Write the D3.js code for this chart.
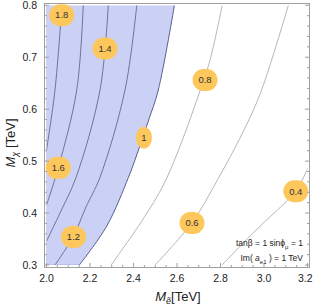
<!DOCTYPE html>
<html>
<head>
<meta charset="utf-8">
<script src="https://cdn.jsdelivr.net/npm/d3@7"></script>
<style>
  body { margin: 0; background: #fff; }
  svg { display: block; font-family: "Liberation Sans", Arial, sans-serif; }
</style>
</head>
<body>
<div id="wrapper"></div>
<script>
// contour lines, [M_e, M_chi] in TeV
const c18 = [[2.071, 0.80], [2.039, 0.637], [2.0, 0.521]];
const c16 = [[2.169, 0.80], [2.139, 0.637], [2.054, 0.487], [2.0, 0.4155]];
const c14 = [[2.284, 0.80], [2.246, 0.637], [2.136, 0.469], [2.062, 0.40], [2.0, 0.346]];
const c12 = [[2.415, 0.80], [2.361, 0.637], [2.246, 0.469], [2.182, 0.412], [2.122, 0.354], [2.039, 0.30]];
const c10 = [[2.588, 0.80], [2.514, 0.637], [2.468, 0.577], [2.415, 0.512], [2.377, 0.469], [2.277, 0.375], [2.151, 0.30]];
const c08 = [[2.808, 0.80], [2.752, 0.695], [2.706, 0.635], [2.553, 0.4675], [2.453, 0.394], [2.297, 0.30]];
const c06 = [[3.112, 0.80], [2.989, 0.637], [2.913, 0.564], [2.793, 0.469], [2.668, 0.381], [2.499, 0.30]];
const c04 = [[3.202, 0.487], [3.145, 0.4425], [2.959, 0.3655], [2.807, 0.30]];

const darkContours = [c18, c16, c14, c12];
const lightContours = [c08, c06, c04];

// contour labels
const labelText = ["1.8", "1.4", "1", "0.8", "1.6", "1.2", "0.6", "0.4"];
const labelMe = [2.070, 2.269, 2.448, 2.729, 2.054, 2.124, 2.669, 3.146];
const labelMx = [0.781, 0.717, 0.545, 0.656, 0.487, 0.354, 0.381, 0.442];

const xTicks = [2.0, 2.2, 2.4, 2.6, 2.8, 3.0, 3.2];
const yTicks = [0.3, 0.4, 0.5, 0.6, 0.7, 0.8];

const width = 313, height = 305;

const svg = d3.select("#wrapper").append("svg")
    .attr("width", width)
    .attr("height", height);

const x = d3.scaleLinear().domain([2.0, 3.2]).range([46.5, 307.5]);
const y = d3.scaleLinear().domain([0.3, 0.8]).range([265, 5.3]);

// frame box (a bit of padding like mathematica)
const fx0 = 44.5, fx1 = 309.5, fy0 = 3.5, fy1 = 267.5;

svg.append("defs").append("clipPath").attr("id", "plotclip")
    .append("rect")
    .attr("x", x(2.0)).attr("y", y(0.8))
    .attr("width", x(3.2) - x(2.0)).attr("height", y(0.3) - y(0.8));

const plot = svg.append("g").attr("clip-path", "url(#plotclip)");

// shaded region: left of the 1.0 contour
const area = d3.area()
    .curve(d3.curveCatmullRom)
    .y(d => y(d[1]))
    .x0(x(2.0))
    .x1(d => x(d[0]));

plot.append("path")
    .attr("d", area(c10))
    .attr("fill", "#cbd1f5")
    .attr("stroke", "none");

// thin edges of the region on left and bottom
plot.append("path")
    .attr("d", `M${x(2.0)},${y(0.8)}L${x(2.0)},${y(0.3)}L${x(c10[c10.length - 1][0])},${y(0.3)}`)
    .attr("fill", "none")
    .attr("stroke", "#a9afdd")
    .attr("stroke-width", 1);

const line = d3.line()
    .curve(d3.curveCatmullRom)
    .x(d => x(d[0]))
    .y(d => y(d[1]));

plot.selectAll(".dark")
    .data(darkContours)
    .join("path")
    .attr("d", line)
    .attr("fill", "none")
    .attr("stroke", "#636891")
    .attr("stroke-width", 0.9);

plot.append("path")
    .attr("d", line(c10))
    .attr("fill", "none")
    .attr("stroke", "#585e8e")
    .attr("stroke-width", 1);

plot.selectAll(".light")
    .data(lightContours)
    .join("path")
    .attr("d", line)
    .attr("fill", "none")
    .attr("stroke", "#a3a3a3")
    .attr("stroke-width", 0.8);

// labels on the contours
const labels = svg.append("g")
    .selectAll("g")
    .data(labelText)
    .join("g")
    .attr("transform", (d, i) => `translate(${x(labelMe[i])},${y(labelMx[i])})`);

labels.append("rect")
    .attr("x", d => d.length > 1 ? -12.5 : -8)
    .attr("y", -11)
    .attr("width", d => d.length > 1 ? 25 : 16)
    .attr("height", 22)
    .attr("rx", d => d.length > 1 ? 11 : 8)
    .attr("ry", 11)
    .attr("fill", "#fdc75c");

labels.append("text")
    .attr("text-anchor", "middle")
    .attr("dy", "0.35em")
    .attr("font-size", 9.5)
    .attr("fill", "#333")
    .text(d => d);

// frame
const frame = svg.append("g");
frame.append("rect")
    .attr("x", fx0).attr("y", fy0)
    .attr("width", fx1 - fx0).attr("height", fy1 - fy0)
    .attr("fill", "none")
    .attr("stroke", "#a0a0a0")
    .attr("stroke-width", 1);

// ticks pointing inward
const xMinor = d3.range(2.0, 3.2001, 0.05);
const yMinor = d3.range(0.3, 0.8001, 0.02);

frame.selectAll(".xt")
    .data(xMinor)
    .join("line")
    .attr("x1", d => x(d)).attr("x2", d => x(d))
    .attr("y1", fy1)
    .attr("y2", d => fy1 - (Math.abs(d * 5 - Math.round(d * 5)) < 1e-6 ? 4.5 : 2.5))
    .attr("stroke", "#a0a0a0");

frame.selectAll(".yt")
    .data(yMinor)
    .join("line")
    .attr("y1", d => y(d)).attr("y2", d => y(d))
    .attr("x1", fx0)
    .attr("x2", d => fx0 + (Math.abs(d * 10 - Math.round(d * 10)) < 1e-6 ? 4.5 : 2.5))
    .attr("stroke", "#a0a0a0");

frame.selectAll(".yr")
    .data(yMinor)
    .join("line")
    .attr("y1", d => y(d)).attr("y2", d => y(d))
    .attr("x1", fx1)
    .attr("x2", d => fx1 - (Math.abs(d * 10 - Math.round(d * 10)) < 1e-6 ? 4.5 : 2.5))
    .attr("stroke", "#a0a0a0");

// tick labels (last one kept inside the window)
svg.append("g").selectAll("text")
    .data(xTicks)
    .join("text")
    .attr("x", (d, i) => i === xTicks.length - 1 ? 312.5 : x(d))
    .attr("y", 282)
    .attr("text-anchor", (d, i) => i === xTicks.length - 1 ? "end" : "middle")
    .attr("font-size", 10.5)
    .attr("fill", "#222")
    .text(d => d.toFixed(1));

svg.append("g").selectAll("text")
    .data(yTicks)
    .join("text")
    .attr("x", 37)
    .attr("y", d => y(d))
    .attr("dy", "0.35em")
    .attr("text-anchor", "end")
    .attr("font-size", 10.5)
    .attr("fill", "#222")
    .text(d => d.toFixed(1));

// axis titles
const xt = svg.append("text")
    .attr("x", 178)
    .attr("y", 301)
    .attr("text-anchor", "middle")
    .attr("font-size", 13)
    .attr("fill", "#222");
xt.append("tspan").attr("font-style", "italic").text("M");
xt.append("tspan").attr("font-size", 9).attr("font-style", "italic").attr("dy", 3).text("ẽ");
xt.append("tspan").attr("dy", -3).text("[TeV]");

const yt = svg.append("text")
    .attr("transform", "translate(15,143) rotate(-90)")
    .attr("text-anchor", "middle")
    .attr("font-size", 13)
    .attr("fill", "#222");
yt.append("tspan").attr("font-style", "italic").text("M");
yt.append("tspan").attr("font-size", 9).attr("font-style", "italic").attr("dy", 3).text("χ");
yt.append("tspan").attr("dy", -3).text(" [TeV]");

// parameter note
const note1 = svg.append("text")
    .attr("x", 303).attr("y", 246)
    .attr("text-anchor", "end")
    .attr("font-size", 8.5)
    .attr("fill", "#222");
note1.append("tspan").text("tanβ = 1  sinϕ");
note1.append("tspan").attr("font-size", 6).attr("dy", 2.5).text("μ");
note1.append("tspan").attr("dy", -2.5).text(" = 1");

const note2 = svg.append("text")
    .attr("x", 303).attr("y", 261)
    .attr("text-anchor", "end")
    .attr("font-size", 8.5)
    .attr("fill", "#222");
note2.append("tspan").text("Im( ");
note2.append("tspan").attr("font-style", "italic").text("a");
note2.append("tspan").attr("font-size", 6).attr("dy", 2.5).text("e1");
note2.append("tspan").attr("dy", -2.5).text(" ) = 1  TeV");
</script>
</body>
</html>
